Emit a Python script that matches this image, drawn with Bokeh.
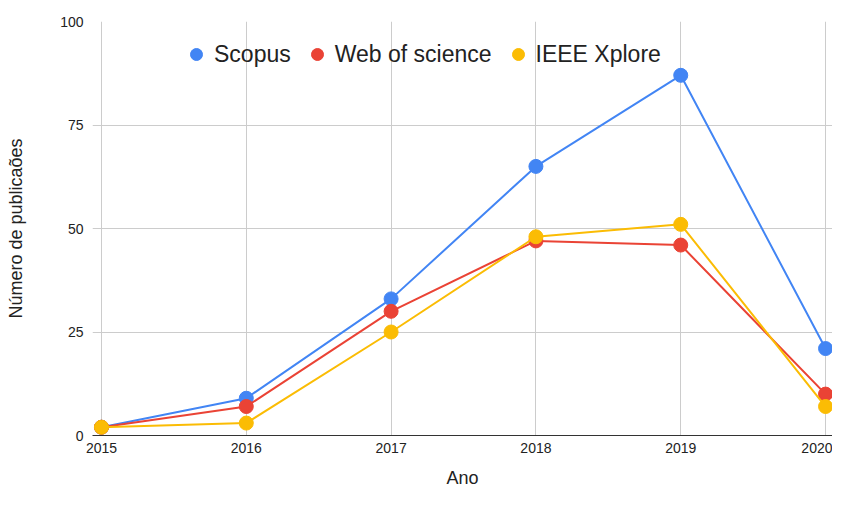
from bokeh.plotting import figure
from bokeh.models import FixedTicker, Legend, LegendItem, Range1d
from bokeh.embed import file_html
from bokeh.resources import INLINE

years = [2015, 2016, 2017, 2018, 2019, 2020]
scopus = [2, 9, 33, 65, 87, 21]
wos = [2, 7, 30, 47, 46, 10]
ieee = [2, 3, 25, 48, 51, 7]
series_names = ["Scopus", "Web of science", "IEEE Xplore"]
y_ticks = [0, 25, 50, 75, 100]

colors = ["#4285F4", "#EA4335", "#FBBC04"]
FONT = "Liberation Sans"

p = figure(width=832, height=490, output_backend="svg", toolbar_location=None,
           x_range=Range1d(2014.938, 2020.048), y_range=Range1d(0, 100),
           min_border_left=92, min_border_right=0, min_border_top=21, min_border_bottom=54)
p.outline_line_color = None

items = []
for name, vals, c in zip(series_names, [scopus, wos, ieee], colors):
    l = p.line(years, vals, line_color=c, line_width=2)
    s = p.scatter(years, vals, size=14, fill_color=c, line_color=c)
    items.append(LegendItem(label=name, renderers=[s]))

legend = Legend(items=items, orientation="horizontal", location=(88, 366),
                border_line_color=None, background_fill_alpha=0,
                padding=0, margin=0, spacing=10, label_standoff=2,
                glyph_width=32, glyph_height=30,
                label_text_font=FONT, label_text_font_size="23px", label_text_color="#222222")
p.add_layout(legend, "center")

p.xaxis.ticker = FixedTicker(ticks=years)
p.yaxis.ticker = FixedTicker(ticks=y_ticks)
p.xgrid.ticker = FixedTicker(ticks=years)
p.grid.grid_line_color = "#cccccc"
p.grid.grid_line_width = 1

for ax in (p.xaxis, p.yaxis):
    ax.major_tick_line_color = None
    ax.minor_tick_line_color = None
    ax.major_tick_out = 0
    ax.major_tick_in = 0
    ax.minor_tick_out = 0
    ax.minor_tick_in = 0
    ax.major_label_text_font = FONT
    ax.major_label_text_font_size = "14px"
    ax.major_label_text_color = "#222222"
    ax.axis_label_text_font = FONT
    ax.axis_label_text_font_size = "18px"
    ax.axis_label_text_font_style = "normal"
    ax.axis_label_text_color = "#222222"

p.xaxis.axis_line_color = "#333333"
p.xaxis.axis_line_width = 1
p.yaxis.axis_line_color = None
p.xaxis.axis_label = "Ano"
p.yaxis.axis_label = "Número de publicaões"
p.xaxis.major_label_standoff = 7
p.yaxis.major_label_standoff = 9
p.xaxis.axis_label_standoff = 12
p.yaxis.axis_label_standoff = 31

open("out.html", "w").write(file_html(p, INLINE))
